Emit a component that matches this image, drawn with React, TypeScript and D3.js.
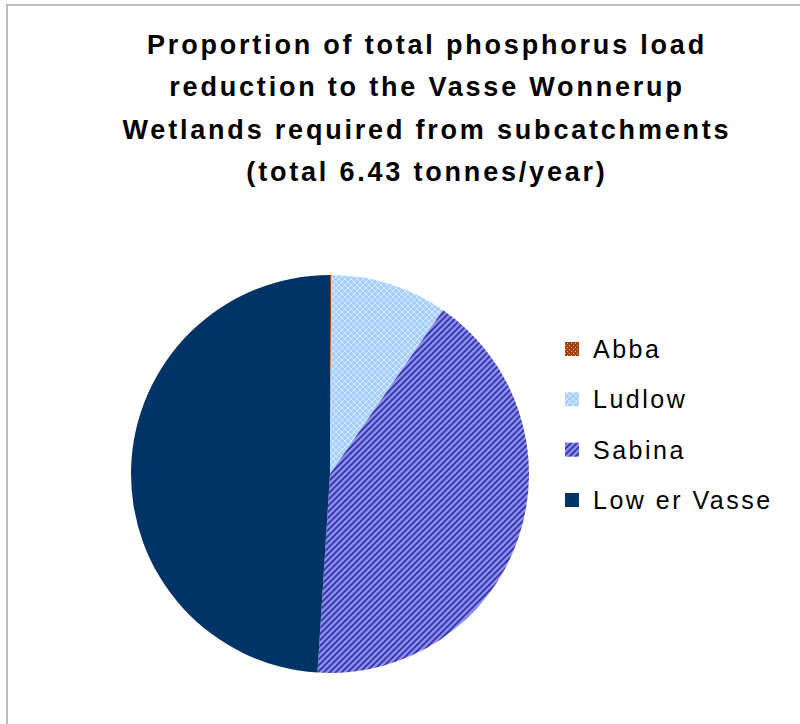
import React from "react";
import * as d3 from "d3";

const categories = ["Abba", "Ludlow", "Sabina", "Low er Vasse"];
const values = [0.1, 9.5, 41.4, 49.0];
const titleLines = [
  "Proportion of total phosphorus load",
  "reduction to the Vasse Wonnerup",
  "Wetlands required from subcatchments",
  "(total 6.43 tonnes/year)",
];
const fills = ["url(#pAbba)", "url(#pLudlow)", "url(#pSabina)", "#003366"];

export default function App() {
  const W = 800, H = 724;
  const cx = 330, cy = 474, r = 199;
  const pie = d3.pie<number>().sort(null).value((d) => d)(values);
  const arc = d3.arc<d3.PieArcDatum<number>>().innerRadius(0).outerRadius(r);
  const legY = d3.scalePoint<string>().domain(categories).range([349, 500]);
  return (
    <svg width={W} height={H} style={{ position: "absolute", left: 0, top: 0 }}>
      <defs>
        <pattern id="pAbba" width={4} height={4} patternUnits="userSpaceOnUse">
          <rect width={4} height={4} fill="#A3400C" />
          <rect x={1} y={1} width={1} height={1} fill="#E8B090" />
          <rect x={3} y={3} width={1} height={1} fill="#E8B090" />
        </pattern>
        <pattern id="pLudlow" width={6} height={6} patternUnits="userSpaceOnUse">
          <rect width={6} height={6} fill="#A6CFFF" />
          <path d="M0,0 L6,6 M6,0 L0,6" stroke="#D6EAFF" strokeWidth={1} />
        </pattern>
        <pattern id="pSabina" width={6} height={6} patternUnits="userSpaceOnUse">
          <rect width={6} height={6} fill="#8A8AF5" />
          <path d="M0,6 L6,0 M-1.5,1.5 L1.5,-1.5 M4.5,7.5 L7.5,4.5" stroke="#3434A0" strokeWidth={1.7} />
        </pattern>
      </defs>
      <rect x={0} y={0} width={W} height={H} fill="#ffffff" />
      <line x1={6} y1={5} x2={W} y2={5} stroke="#BDBDBD" strokeWidth={2} />
      <line x1={7} y1={4} x2={7} y2={H} stroke="#BDBDBD" strokeWidth={2} />
      <g fontFamily="Liberation Sans, Arial, sans-serif" fontWeight="bold" fontSize={27} textAnchor="middle" fill="#000" letterSpacing={2.8}>
        {titleLines.map((t, i) => (
          <text key={i} x={427} y={54 + i * 42.3}>{t}</text>
        ))}
      </g>
      <g transform={`translate(${cx},${cy})`}>
        {pie.map((d, i) => (
          <path key={i} d={arc(d) || ""} fill={fills[i]} />
        ))}
      </g>
      <g fontFamily="Liberation Sans, Arial, sans-serif" fontSize={25} fill="#000" letterSpacing={2.5}>
        {categories.map((c, i) => (
          <g key={c}>
            <rect x={565} y={(legY(c) as number) - 7} width={14} height={14} fill={fills[i]} />
            <text x={593} y={(legY(c) as number) + 9}>{c}</text>
          </g>
        ))}
      </g>
    </svg>
  );
}
